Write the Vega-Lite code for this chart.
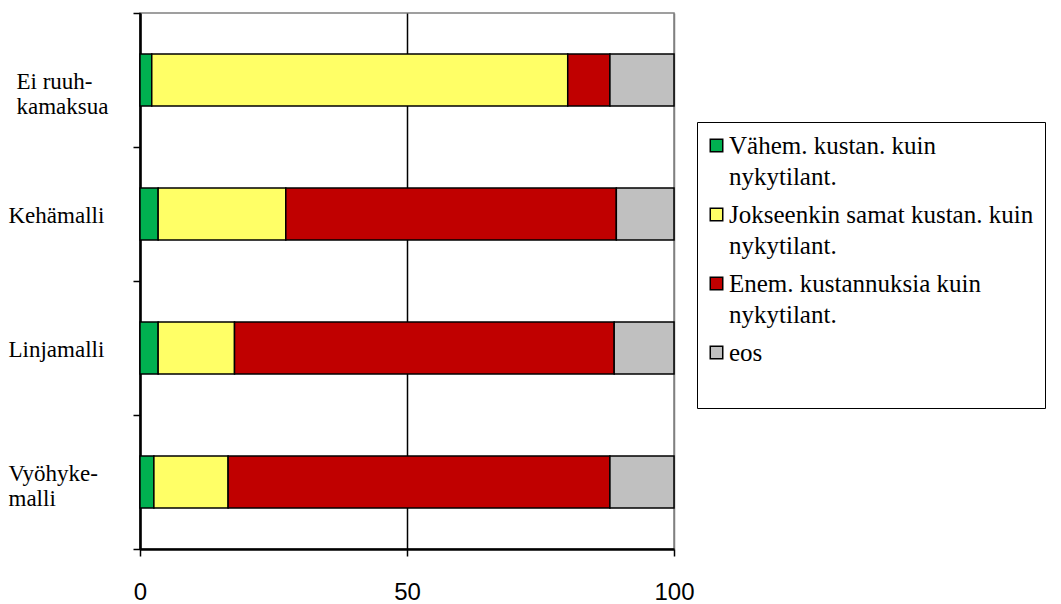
{
  "$schema": "https://vega.github.io/schema/vega-lite/v6.json",
  "autosize": {"type": "none"},
  "padding": {"left": 140, "top": 13, "right": 387, "bottom": 55},
  "width": 534,
  "height": 536,
  "background": "white",
  "config": {
    "view": {"stroke": "#808080", "strokeWidth": 1.5}
  },
  "data": {
    "values": [
      {"malli": "Ei ruuhkamaksua", "luokka": "Vähem. kustan. kuin nykytilant.", "jarjestys": 1, "osuus": 2.2},
      {"malli": "Ei ruuhkamaksua", "luokka": "Jokseenkin samat kustan. kuin nykytilant.", "jarjestys": 2, "osuus": 77.9},
      {"malli": "Ei ruuhkamaksua", "luokka": "Enem. kustannuksia kuin nykytilant.", "jarjestys": 3, "osuus": 7.9},
      {"malli": "Ei ruuhkamaksua", "luokka": "eos", "jarjestys": 4, "osuus": 12.0},
      {"malli": "Kehämalli", "luokka": "Vähem. kustan. kuin nykytilant.", "jarjestys": 1, "osuus": 3.4},
      {"malli": "Kehämalli", "luokka": "Jokseenkin samat kustan. kuin nykytilant.", "jarjestys": 2, "osuus": 23.9},
      {"malli": "Kehämalli", "luokka": "Enem. kustannuksia kuin nykytilant.", "jarjestys": 3, "osuus": 61.9},
      {"malli": "Kehämalli", "luokka": "eos", "jarjestys": 4, "osuus": 10.8},
      {"malli": "Linjamalli", "luokka": "Vähem. kustan. kuin nykytilant.", "jarjestys": 1, "osuus": 3.4},
      {"malli": "Linjamalli", "luokka": "Jokseenkin samat kustan. kuin nykytilant.", "jarjestys": 2, "osuus": 14.3},
      {"malli": "Linjamalli", "luokka": "Enem. kustannuksia kuin nykytilant.", "jarjestys": 3, "osuus": 71.1},
      {"malli": "Linjamalli", "luokka": "eos", "jarjestys": 4, "osuus": 11.2},
      {"malli": "Vyöhykemalli", "luokka": "Vähem. kustan. kuin nykytilant.", "jarjestys": 1, "osuus": 2.6},
      {"malli": "Vyöhykemalli", "luokka": "Jokseenkin samat kustan. kuin nykytilant.", "jarjestys": 2, "osuus": 13.9},
      {"malli": "Vyöhykemalli", "luokka": "Enem. kustannuksia kuin nykytilant.", "jarjestys": 3, "osuus": 71.5},
      {"malli": "Vyöhykemalli", "luokka": "eos", "jarjestys": 4, "osuus": 12.0}
    ]
  },
  "mark": {"type": "bar", "stroke": "black", "strokeWidth": 1.5, "height": {"band": 0.388}},
  "encoding": {
    "y": {
      "field": "malli",
      "type": "nominal",
      "sort": ["Ei ruuhkamaksua", "Kehämalli", "Linjamalli", "Vyöhykemalli"],
      "scale": {"paddingInner": 0, "paddingOuter": 0},
      "axis": {
        "title": null,
        "domainColor": "black",
        "domainWidth": 2.5,
        "tickColor": "black",
        "tickWidth": 1.5,
        "tickSize": 7,
        "tickBand": "extent",
        "labelFont": "Liberation Serif",
        "labelFontSize": 23,
        "labelColor": "black",
        "labelLineHeight": 25,
        "labelAlign": "left",
        "labelBaseline": "middle",
        "labelLimit": 200,
        "labelPadding": {"condition": {"test": "datum.value == 'Ei ruuhkamaksua'", "value": 117}, "value": 125},
        "labelOffset": {"condition": {"test": "datum.value == 'Vyöhykemalli'", "value": -9}, "value": 1},
        "labelExpr": "datum.label == 'Ei ruuhkamaksua' ? ['Ei ruuh-', 'kamaksua'] : datum.label == 'Vyöhykemalli' ? ['Vyöhyke-', 'malli'] : datum.label"
      }
    },
    "x": {
      "field": "osuus",
      "type": "quantitative",
      "stack": "zero",
      "scale": {"domain": [0, 100], "nice": false},
      "axis": {
        "title": null,
        "values": [0, 50, 100],
        "domainColor": "black",
        "domainWidth": 2.5,
        "tickColor": "black",
        "tickWidth": 1.5,
        "tickSize": 7,
        "grid": true,
        "gridColor": {"condition": {"test": "datum.value == 100", "value": "#808080"}, "value": "black"},
        "gridWidth": 1.5,
        "labelFont": "Liberation Sans",
        "labelFontSize": 24,
        "labelColor": "black",
        "labelPadding": 24,
        "labelFlush": false
      }
    },
    "order": {"field": "jarjestys", "type": "quantitative"},
    "color": {
      "field": "luokka",
      "type": "nominal",
      "scale": {
        "domain": ["Vähem. kustan. kuin nykytilant.", "Jokseenkin samat kustan. kuin nykytilant.", "Enem. kustannuksia kuin nykytilant.", "eos"],
        "range": ["#00B050", "#FFFF66", "#C00000", "#C0C0C0"]
      },
      "legend": {
        "title": null,
        "orient": "none",
        "legendX": 557,
        "legendY": 109,
        "fillColor": "white",
        "strokeColor": "black",
        "padding": 11,
        "symbolOffset": -4,
        "symbolType": "square",
        "symbolSize": 156,
        "symbolStrokeColor": "black",
        "symbolStrokeWidth": 1.5,
        "symbolOpacity": 1,
        "labelFont": "Liberation Serif",
        "labelFontSize": 25,
        "labelColor": "black",
        "labelBaseline": "middle",
        "labelOffset": 0,
        "labelLimit": 500,
        "rowPadding": 12,
        "labelExpr": "indexof(datum.label, ' nykytilant.') > 0 ? [replace(datum.label, ' nykytilant.', ''), 'nykytilant.'] : [datum.label, ' ']",
        "encode": {
          "labels": {"update": {"lineHeight": {"value": 31}}}
        }
      }
    }
  }
}
